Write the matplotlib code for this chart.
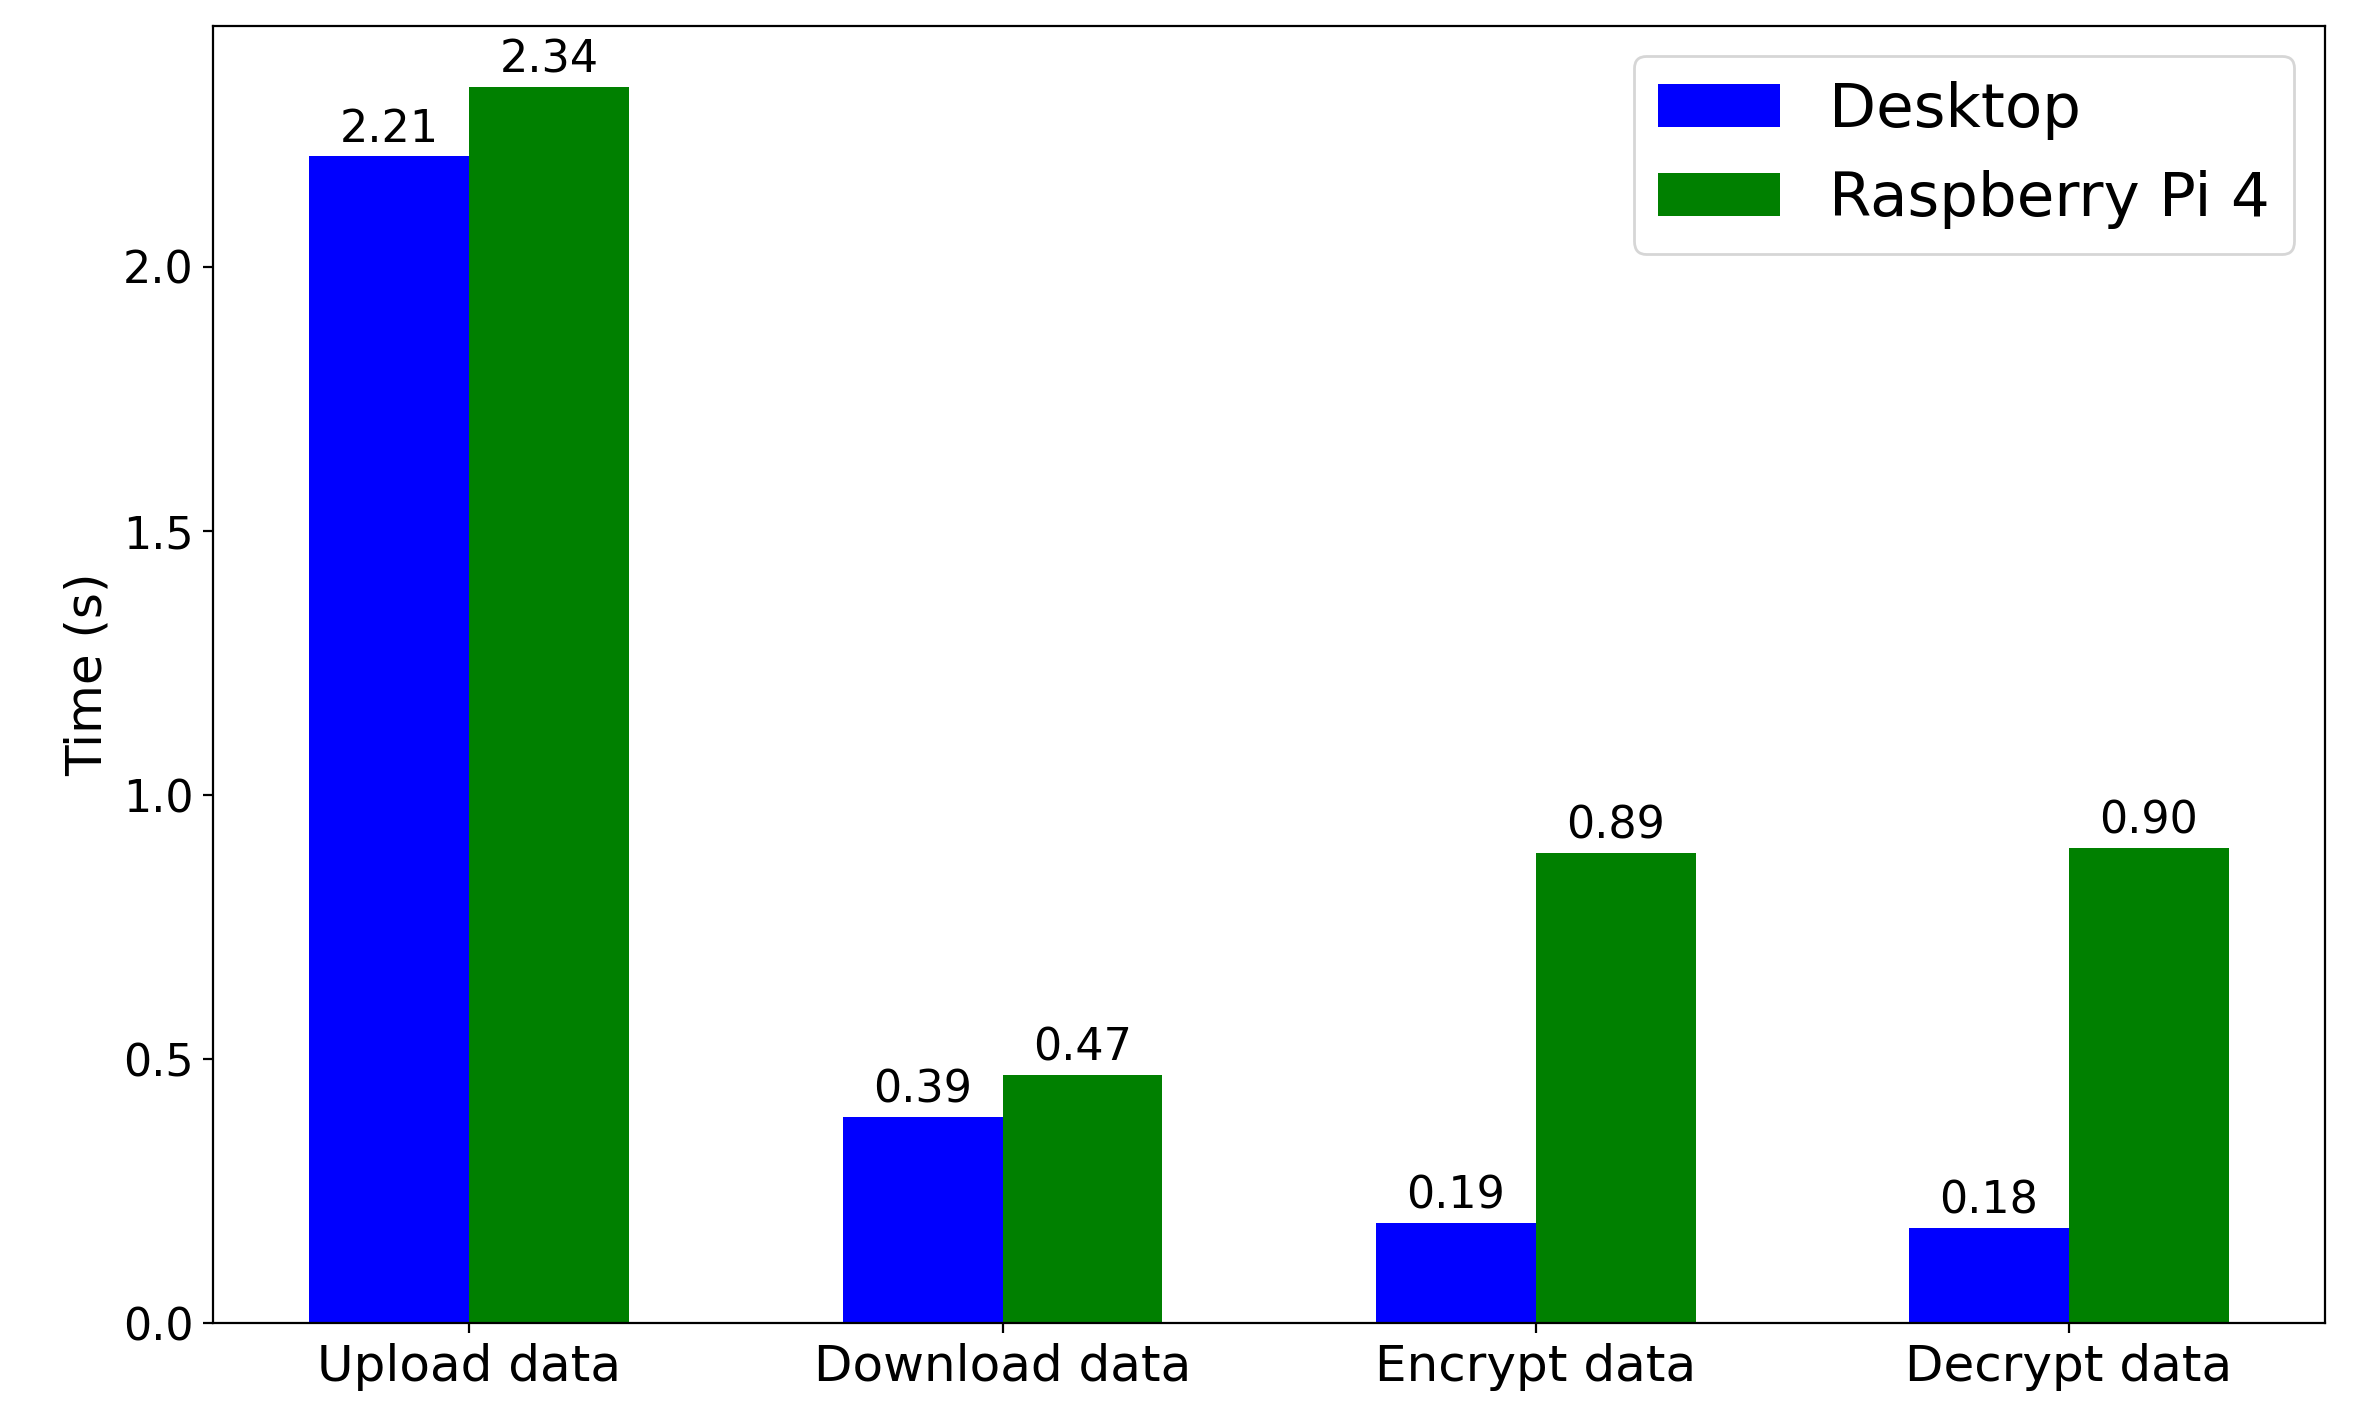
import numpy as np
from matplotlib import pyplot as plt

tasks = ['Upload data', 'Download data', 'Encrypt data', 'Decrypt data']
desktop = [2.21, 0.39, 0.19, 0.18]
raspberry = [2.34, 0.47, 0.89, 0.90]

x = np.arange(len(tasks))
w = 0.3

fig, ax = plt.subplots(figsize=(11.85, 7.115), dpi=200)
fig.subplots_adjust(left=0.09, right=0.981, top=0.982, bottom=0.07)

b1 = ax.bar(x - w/2, desktop, w, color='blue', label='Desktop')
b2 = ax.bar(x + w/2, raspberry, w, color='green', label='Raspberry Pi 4')
for bars in (b1, b2):
    ax.bar_label(bars, labels=['{0:.2f}'.format(b.get_height()) for b in bars],
                 fontsize=16, padding=2)

ax.set_xticks(x)
ax.set_xticklabels(tasks, fontsize=18)
ax.tick_params(axis='y', labelsize=16)
ax.set_ylabel('Time (s)', fontsize=18)
ax.legend(fontsize=22, loc='upper right')
plt.savefig('out.png')
